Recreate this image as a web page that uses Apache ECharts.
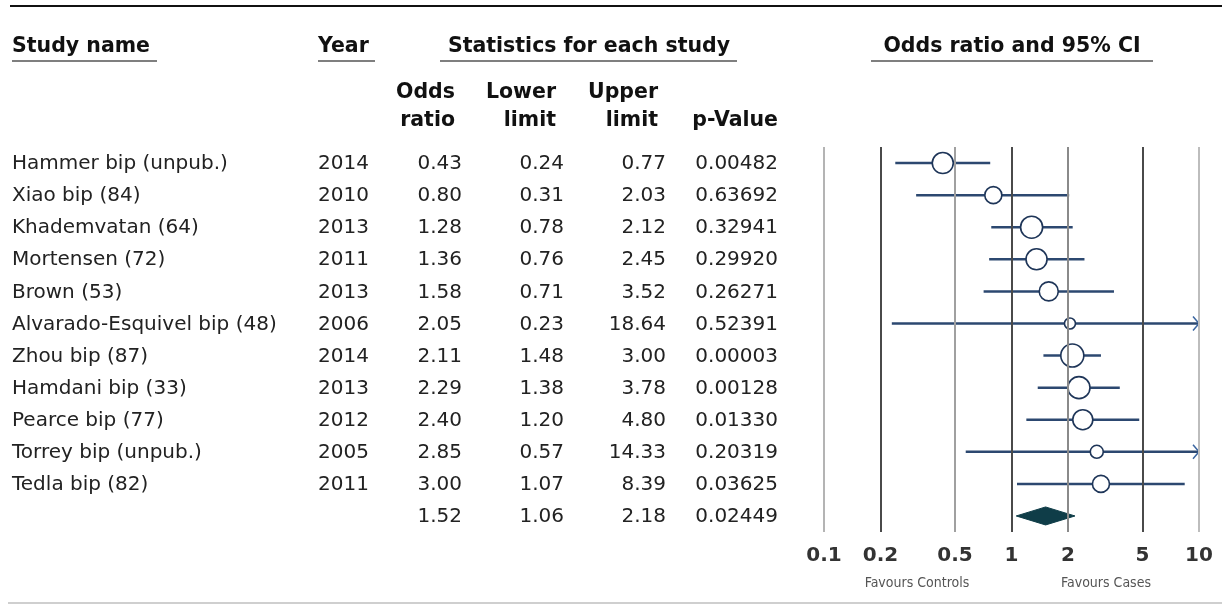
<!DOCTYPE html>
<html>
<head>
<meta charset="utf-8">
<script src="https://cdn.jsdelivr.net/npm/echarts@6/dist/echarts.min.js"></script>
<style>
	html, body { margin: 0; padding: 0; background: #fff; }
	#chart { width: 1222px; height: 608px; }
</style>
</head>
<body>
<div id="chart"></div>
<script>
// study data
const studyNames = [
	'Hammer bip (unpub.)', 'Xiao bip (84)', 'Khademvatan (64)', 'Mortensen (72)', 'Brown (53)',
	'Alvarado-Esquivel bip (48)', 'Zhou bip (87)', 'Hamdani bip (33)', 'Pearce bip (77)',
	'Torrey bip (unpub.)', 'Tedla bip (82)'
];
const years = [2014, 2010, 2013, 2011, 2013, 2006, 2014, 2013, 2012, 2005, 2011];
const oddsRatio = [0.43, 0.80, 1.28, 1.36, 1.58, 2.05, 2.11, 2.29, 2.40, 2.85, 3.00];
const lowerLimit = [0.24, 0.31, 0.78, 0.76, 0.71, 0.23, 1.48, 1.38, 1.20, 0.57, 1.07];
const upperLimit = [0.77, 2.03, 2.12, 2.45, 3.52, 18.64, 3.00, 3.78, 4.80, 14.33, 8.39];
const pValues = [0.00482, 0.63692, 0.32941, 0.29920, 0.26271, 0.52391, 0.00003, 0.00128, 0.01330, 0.20319, 0.03625];
// relative weight -> marker diameter (px)
const markerSize = [21, 17, 22, 21, 19, 11, 23, 22, 20, 13, 17];

// pooled result
const summary = { or: 1.52, lo: 1.06, hi: 2.18, p: 0.02449 };

const tickValues = [0.1, 0.2, 0.5, 1, 2, 5, 10];
const tickLineColors = ['#b4b4b4', '#4a4a4a', '#a0a0a0', '#4a4a4a', '#8a8a8a', '#4a4a4a', '#bdbdbd'];

const rowCats = studyNames.concat(['Summary']);
const xMin = 0.1, xMax = 10;

const NAVY = '#2c4870';
const DATA_FONT = '"DejaVu Sans", sans-serif';
const SMALL_FONT = '"DejaVu Sans Condensed", "DejaVu Sans", sans-serif';
const HEAD_FONT = '"DejaVu Sans", sans-serif';

let forestData = [];
for (let i = 0; i < studyNames.length; i++) {
	forestData.push([oddsRatio[i], lowerLimit[i], upperLimit[i], markerSize[i], i, 0]);
}
forestData.push([summary.or, summary.lo, summary.hi, 0, studyNames.length, 1]);

// text cells per row (kept as strings, drawn by index)
let tableRows = [];
for (let i = 0; i < studyNames.length; i++) {
	tableRows.push([studyNames[i], String(years[i]), oddsRatio[i].toFixed(2), lowerLimit[i].toFixed(2), upperLimit[i].toFixed(2), pValues[i].toFixed(5)]);
}
tableRows.push(['', '', summary.or.toFixed(2), summary.lo.toFixed(2), summary.hi.toFixed(2), summary.p.toFixed(5)]);
let tableData = tableRows.map(function(r, i) { return [0, i]; });

function renderForest(params, api) {
	let or = api.value(0), lo = api.value(1), hi = api.value(2);
	let size = api.value(3), row = api.value(4), isSum = api.value(5);
	let y = api.coord([1, row])[1];
	let xOr = api.coord([or, row])[0];
	let xLo = api.coord([Math.max(lo, xMin), row])[0];
	let xHi = api.coord([Math.min(hi, xMax), row])[0];
	if (isSum) {
		return {
			type: 'polygon',
			shape: { points: [[xLo, y], [xOr, y - 9], [xHi, y], [xOr, y + 9]] },
			style: { fill: '#0f3d48', stroke: '#0f3d48', lineWidth: 1 }
		};
	}
	let children = [{
		type: 'line',
		shape: { x1: xLo, y1: y, x2: xHi, y2: y },
		style: { stroke: NAVY, lineWidth: 2.5 }
	}];
	if (hi > xMax) {
		children.push({
			type: 'polyline',
			shape: { points: [[xHi - 6, y - 7], [xHi, y], [xHi - 6, y + 7]] },
			style: { stroke: '#3a65a0', lineWidth: 1.5, fill: null }
		});
	}
	children.push({
		type: 'circle',
		shape: { cx: xOr, cy: y, r: size / 2 },
		style: { fill: '#fff', stroke: '#1e3558', lineWidth: 1.6 }
	});
	return { type: 'group', children: children };
}

// column right edges for the table (px)
const colRight = [369, 462, 564, 666, 778];

function renderTable(params, api) {
	let row = api.value(1);
	let cells = tableRows[params.dataIndex];
	let y = api.coord([0, row])[1] + 1;
	let cell = function(text, x, align) {
		return {
			type: 'text',
			x: x, y: y,
			style: { text: text, font: '20px ' + DATA_FONT, fill: '#222', textAlign: align, textVerticalAlign: 'middle' }
		};
	};
	let children = [cell(cells[0], 12, 'left')];
	for (let k = 0; k < 5; k++) {
		children.push(cell(cells[1 + k], colRight[k], 'right'));
	}
	return { type: 'group', children: children };
}

function headText(text, x, y, align) {
	return {
		type: 'text', x: x, y: y,
		style: { text: text, font: 'bold 20.5px ' + HEAD_FONT, fill: '#111', textAlign: align, textVerticalAlign: 'middle' }
	};
}
function rule(x1, y1, x2, color, w) {
	return { type: 'line', shape: { x1: x1, y1: y1, x2: x2, y2: y1 }, style: { stroke: color, lineWidth: w } };
}
function smallText(text, x, y) {
	return {
		type: 'text', x: x, y: y,
		style: { text: text, font: '14px ' + SMALL_FONT, fill: '#555', textAlign: 'center', textVerticalAlign: 'middle' }
	};
}

let myChart = echarts.init(document.getElementById('chart'), null, { renderer: 'canvas' });

let option = {
	animation: false,
	backgroundColor: '#fff',
	grid: [
		{ left: 824, right: 23, top: 147, height: 385 },
		{ left: 0, width: 800, top: 147, height: 385 }
	],
	xAxis: [
		{
			type: 'log', logBase: 10, min: xMin, max: xMax, gridIndex: 0,
			axisLine: { show: false }, axisTick: { show: false }, splitLine: { show: false },
			axisLabel: {
				customValues: tickValues,
				margin: 14,
				fontFamily: HEAD_FONT, fontWeight: 'bold', fontSize: 20, color: '#333',
				formatter: function(v) { return String(v); }
			}
		},
		{ type: 'value', min: 0, max: 800, gridIndex: 1, show: false }
	],
	yAxis: [
		{ type: 'category', data: rowCats, inverse: true, gridIndex: 0, show: false },
		{ type: 'category', data: rowCats, inverse: true, gridIndex: 1, show: false }
	],
	series: [
		{
			type: 'custom', xAxisIndex: 0, yAxisIndex: 0, clip: false,
			data: forestData,
			renderItem: renderForest,
			markLine: {
				silent: true, symbol: 'none', label: { show: false },
				data: tickValues.map(function(v, i) {
					return { xAxis: v, lineStyle: { color: tickLineColors[i], width: 2, type: 'solid' } };
				})
			},
			z: 3
		},
		{
			type: 'custom', xAxisIndex: 1, yAxisIndex: 1,
			data: tableData,
			renderItem: renderTable
		}
	],
	graphic: [
		rule(10, 6, 1222, '#111', 2),
		rule(8, 603, 1222, '#cfcfcf', 2),
		headText('Study name', 12, 47, 'left'),
		rule(12, 61, 157, '#555', 1.5),
		headText('Year', 318, 47, 'left'),
		rule(318, 61, 375, '#555', 1.5),
		headText('Statistics for each study', 589, 47, 'center'),
		rule(440, 61, 737, '#555', 1.5),
		headText('Odds ratio and 95% CI', 1012, 47, 'center'),
		rule(871, 61, 1153, '#555', 1.5),
		headText('Odds', 455, 93, 'right'),
		headText('ratio', 455, 121, 'right'),
		headText('Lower', 556, 93, 'right'),
		headText('limit', 556, 121, 'right'),
		headText('Upper', 658, 93, 'right'),
		headText('limit', 658, 121, 'right'),
		headText('p-Value', 778, 121, 'right'),
		smallText('Favours Controls', 917, 583),
		smallText('Favours Cases', 1106, 583)
	]
};

myChart.setOption(option);
</script>
</body>
</html>
